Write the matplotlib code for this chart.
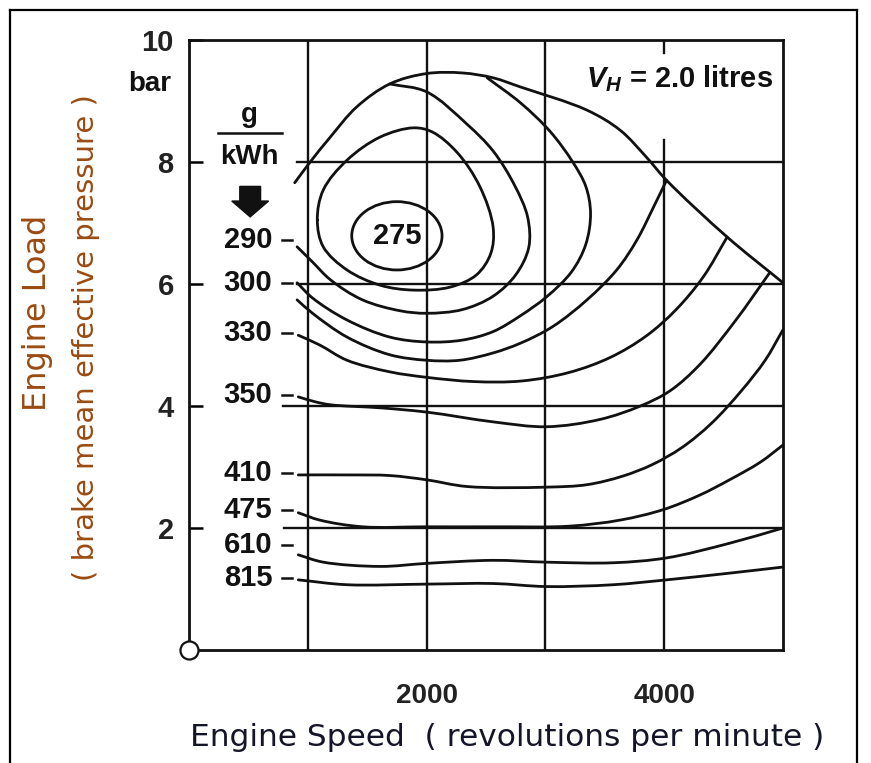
"""Fuel consumption map (BSFC) of a 2.0 litre engine."""

import matplotlib
matplotlib.use("Agg")
import matplotlib.pyplot as plt
import numpy as np
from matplotlib.path import Path
from matplotlib.patches import PathPatch, Ellipse
from matplotlib.lines import Line2D

# full-load line (engine speed in rpm, bmep in bar)
wot_rpm = [890, 1020, 1190, 1410, 1690, 2000, 2300, 2560, 2790, 3350, 3630, 3850, 4020, 4530, 5000]
wot_bar = [7.66, 8.00, 8.41, 8.90, 9.28, 9.45, 9.46, 9.38, 9.23, 8.85, 8.52, 8.08, 7.70, 6.77, 6.02]

# closed island round the 275 g/kWh minimum
inner_rpm = [1080, 1130, 1330, 1610, 1890, 2050, 2260, 2450, 2560, 2540, 2420, 2200, 1890, 1610, 1330, 1130]
inner_bar = [7.05, 7.54, 8.03, 8.41, 8.56, 8.49, 8.15, 7.59, 6.93, 6.50, 6.15, 5.95, 5.90, 5.98, 6.23, 6.61]

# 275 g/kWh ellipse: centre, width, height
best_rpm, best_bar = 1750, 6.79
best_w, best_h = 760, 1.12

c290_rpm = [910, 1040, 1190, 1460, 1780, 2000, 2300, 2560, 2750, 2860, 2850, 2740, 2560, 2340, 2000, 1690]
c290_bar = [6.61, 6.36, 6.07, 5.74, 5.56, 5.52, 5.58, 5.80, 6.15, 6.60, 7.10, 7.62, 8.18, 8.62, 9.15, 9.28]

c300_rpm = [910, 1040, 1330, 1690, 2000, 2300, 2560, 2790, 3010, 3220, 3340, 3380, 3340, 3230, 3040, 2790, 2510]
c300_bar = [6.02, 5.77, 5.41, 5.13, 5.05, 5.08, 5.22, 5.48, 5.79, 6.20, 6.65, 7.16, 7.60, 8.00, 8.50, 8.97, 9.38]

c310_rpm = [910, 1040, 1330, 1690, 2000, 2280, 2560, 2790, 3060, 3350, 3600, 3770, 3920, 4020]
c310_bar = [5.74, 5.52, 5.13, 4.84, 4.75, 4.75, 4.87, 5.03, 5.30, 5.74, 6.23, 6.72, 7.30, 7.70]

c330_rpm = [920, 1100, 1330, 1690, 2000, 2400, 2800, 3200, 3550, 3850, 4100, 4330, 4530]
c330_bar = [5.16, 5.00, 4.75, 4.56, 4.47, 4.40, 4.41, 4.55, 4.80, 5.15, 5.58, 6.12, 6.77]

c350_rpm = [920, 1060, 1190, 1610, 2000, 2560, 3010, 3460, 3800, 4050, 4300, 4600, 4890]
c350_bar = [4.15, 4.07, 4.02, 3.97, 3.90, 3.74, 3.66, 3.78, 4.00, 4.25, 4.68, 5.40, 6.19]

c410_rpm = [920, 1350, 1690, 2000, 2340, 3010, 3350, 3650, 3900, 4150, 4400, 4650, 4850, 5000]
c410_bar = [2.87, 2.87, 2.86, 2.79, 2.68, 2.67, 2.71, 2.85, 3.04, 3.32, 3.72, 4.25, 4.75, 5.25]

c475_rpm = [920, 1100, 1460, 2000, 2600, 3200, 3630, 3990, 4300, 4550, 4810, 5000]
c475_bar = [2.25, 2.13, 2.02, 2.02, 2.02, 2.03, 2.13, 2.30, 2.54, 2.79, 3.08, 3.36]

c610_rpm = [920, 1130, 1610, 2000, 2560, 3010, 3570, 4020, 4550, 5000]
c610_bar = [1.56, 1.44, 1.37, 1.42, 1.47, 1.44, 1.43, 1.51, 1.75, 2.00]

c815_rpm = [920, 1330, 2000, 2560, 3010, 3570, 4020, 4550, 5000]
c815_bar = [1.15, 1.07, 1.08, 1.09, 1.04, 1.07, 1.15, 1.26, 1.36]

label_text = ["290", "300", "330", "350", "410", "475", "610", "815"]
label_bar = [6.72, 6.02, 5.20, 4.18, 2.90, 2.30, 1.72, 1.18]

y_ticks = [2, 4, 6, 8, 10]
x_ticks = [2000, 4000]
grid_rpm = [1000, 2000, 3000]
grid_bar = [2, 4, 6, 8]
grid_bar_start = [800, 790, 910, 910]

NUM_FONT = "Liberation Sans"
INK = "#111111"
# axes size in pixels, used so the smoothing works in screen proportions
SX, SY = 594 / 5000.0, 610 / 10.0


def smooth_path(xs, ys, closed=False):
    """Centripetal Catmull-Rom curve through the read points, as a Bezier path."""
    pts = np.column_stack([np.asarray(xs) * SX, np.asarray(ys) * SY]).astype(float)
    n = len(pts)
    if closed:
        P = np.vstack([pts[-1], pts, pts[0], pts[1]])
        segs = n
    else:
        P = np.vstack([2 * pts[0] - pts[1], pts, 2 * pts[-1] - pts[-2]])
        segs = n - 1
    verts = [pts[0]]
    codes = [Path.MOVETO]
    for i in range(segs):
        p0, p1, p2, p3 = P[i], P[i + 1], P[i + 2], P[i + 3]
        d01 = max(np.linalg.norm(p1 - p0) ** 0.5, 1e-6)
        d12 = max(np.linalg.norm(p2 - p1) ** 0.5, 1e-6)
        d23 = max(np.linalg.norm(p3 - p2) ** 0.5, 1e-6)
        m1 = d12 * ((p1 - p0) / d01 - (p2 - p0) / (d01 + d12) + (p2 - p1) / d12)
        m2 = d12 * ((p2 - p1) / d12 - (p3 - p1) / (d12 + d23) + (p3 - p2) / d23)
        verts += [p1 + m1 / 3.0, p2 - m2 / 3.0, p2]
        codes += [Path.CURVE4] * 3
    verts = np.array(verts) / np.array([SX, SY])
    return Path(verts, codes)


def draw_curve(ax, xs, ys, closed=False, lw=2.0):
    patch = PathPatch(smooth_path(xs, ys, closed), fill=False, ec=INK, lw=lw,
                      capstyle="round", joinstyle="round", zorder=3)
    ax.add_patch(patch)


plt.rcParams["mathtext.fontset"] = "custom"
plt.rcParams["mathtext.it"] = "Liberation Sans:italic:bold"
plt.rcParams["mathtext.rm"] = "Liberation Sans:bold"

fig = plt.figure(figsize=(8.71, 7.63), dpi=100)
ax = fig.add_axes([189 / 871, 113 / 763, 594 / 871, 610 / 763])
ax.set_xlim(0, 5000)
ax.set_ylim(0, 10)
for sp in ax.spines.values():
    sp.set_linewidth(2.0)
    sp.set_color(INK)

# grid
for r in grid_rpm:
    ax.plot([r, r], [0, 10], color=INK, lw=1.7, zorder=2)
ax.plot([4000, 4000], [0, 8.36], color=INK, lw=1.7, zorder=2)
ax.plot([4000, 4000], [9.79, 10], color=INK, lw=1.7, zorder=2)
for b, x0 in zip(grid_bar, grid_bar_start):
    ax.plot([x0, 5000], [b, b], color=INK, lw=1.7, zorder=2)

# contours
draw_curve(ax, wot_rpm, wot_bar)
draw_curve(ax, inner_rpm, inner_bar, closed=True)
for xs, ys in [(c290_rpm, c290_bar), (c300_rpm, c300_bar), (c310_rpm, c310_bar),
               (c330_rpm, c330_bar), (c350_rpm, c350_bar), (c410_rpm, c410_bar),
               (c475_rpm, c475_bar), (c610_rpm, c610_bar), (c815_rpm, c815_bar)]:
    draw_curve(ax, xs, ys)
ax.add_patch(Ellipse((best_rpm, best_bar), best_w, best_h, fill=False, ec=INK, lw=2.0, zorder=3))
ax.text(best_rpm, best_bar, "275", ha="center", va="center", fontsize=21,
        family=NUM_FONT, weight="bold", color=INK)

# value labels on the left
for t, b in zip(label_text, label_bar):
    ax.text(700, b, t, ha="right", va="center", fontsize=21, family=NUM_FONT,
            weight="bold", color=INK)
    ax.plot([785, 865], [b, b], color=INK, lw=1.8, zorder=3)

# unit block
ax.text(-330, 9.28, "bar", ha="center", va="center", fontsize=20, family=NUM_FONT,
        weight="bold", color=INK, clip_on=False)
ax.text(505, 8.77, "g", ha="center", va="center", fontsize=20, family=NUM_FONT,
        weight="bold", color=INK)
ax.plot([240, 780], [8.48, 8.48], color=INK, lw=1.8)
ax.text(505, 8.08, "kWh", ha="center", va="center", fontsize=20, family=NUM_FONT,
        weight="bold", color=INK)
ax.arrow(515, 7.60, 0, -0.50, width=175, head_width=310, head_length=0.26,
         length_includes_head=True, fc=INK, ec=INK, zorder=4)

ax.text(4916, 9.36, r"$V_H$ = 2.0 litres", ha="right", va="center", fontsize=21,
        color=INK, family=NUM_FONT, weight="bold")

# origin marker
ax.plot([0], [0], "o", ms=13, mfc="white", mec=INK, mew=1.6, clip_on=False, zorder=6)

# ticks
ax.set_yticks(y_ticks)
ax.set_yticklabels([str(v) for v in y_ticks])
ax.set_xticks(x_ticks)
ax.set_xticklabels([str(v) for v in x_ticks])
ax.tick_params(axis="y", direction="in", length=10, width=1.8, pad=11, labelsize=21)
ax.tick_params(axis="x", length=0, pad=24, labelsize=20)
for lab in ax.get_xticklabels() + ax.get_yticklabels():
    lab.set_fontfamily(NUM_FONT)
    lab.set_fontweight("bold")
    lab.set_color("#222222")

# axis titles
fig.text(0.0436, 0.590, "Engine Load", rotation=90, ha="center", va="center",
         fontsize=23, family="DejaVu Sans", color="#9a4b12")
fig.text(0.0987, 0.558, "( brake mean effective pressure )", rotation=90, ha="center",
         va="center", fontsize=21, family="DejaVu Sans", color="#9a4b12")
fig.text(0.582, 0.033, "Engine Speed  ( revolutions per minute )", ha="center",
         va="center", fontsize=22.5, family="DejaVu Sans", color="#15152a")

# frame round the picture
fig.add_artist(Line2D([10 / 871, 10 / 871], [0, 1 - 10 / 763], color="black", lw=1.6))
fig.add_artist(Line2D([10 / 871, 857 / 871], [1 - 10 / 763, 1 - 10 / 763], color="black", lw=1.6))
fig.add_artist(Line2D([857 / 871, 857 / 871], [0, 1 - 10 / 763], color="black", lw=1.6))

fig.savefig("out.png", dpi=100)
plt.close(fig)
